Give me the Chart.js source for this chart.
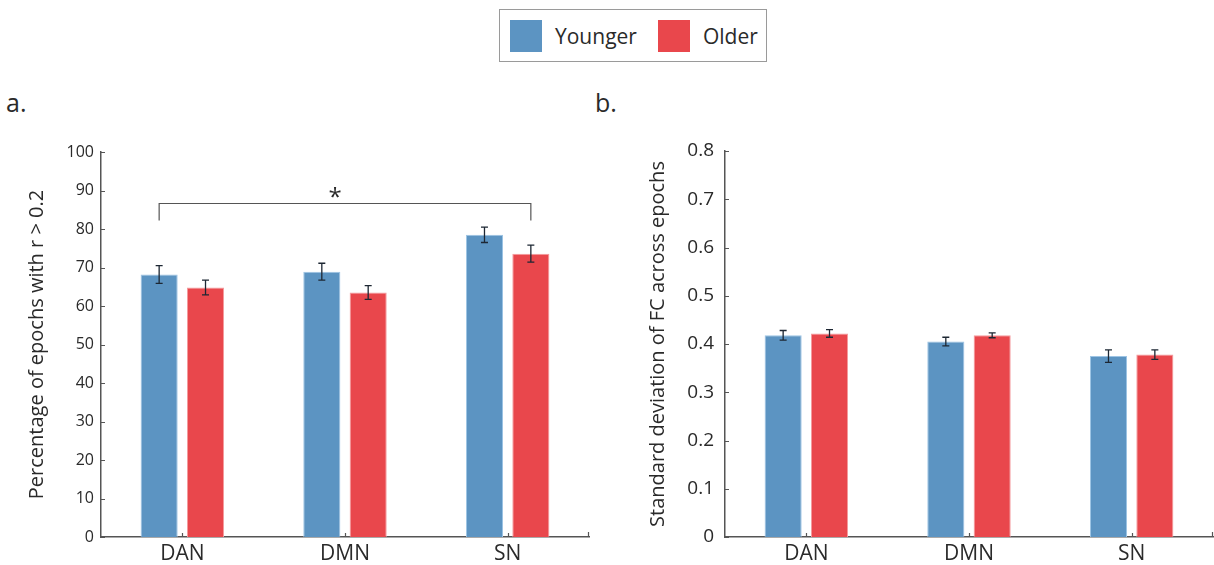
<!DOCTYPE html>
<html>
<head>
<meta charset="utf-8">
<script src="https://cdn.jsdelivr.net/npm/chart.js@4.4.1/dist/chart.umd.min.js"></script>
<style>
  html, body { margin: 0; padding: 0; background: #fff; }
  body { position: relative; width: 1214px; height: 565px; overflow: hidden; font-family: "Open Sans", sans-serif; color: #2a2a2a; }
  .panel { position: absolute; top: 120px; }
  #panelA { left: 0; }
  #panelB { left: 600px; }
  .tag { position: absolute; top: 90px; font-size: 25px; line-height: 1; }
  #legend {
    position: absolute; left: 499px; top: 9px; width: 268px; height: 53px;
    box-sizing: border-box; border: 1px solid #9a9a9a;
    display: flex; align-items: center; padding-left: 10px;
    font-size: 21px;
  }
  #legend .item { display: flex; align-items: center; margin-right: 21px; }
  #legend .swatch { width: 32px; height: 32px; margin-right: 13px; }
</style>
</head>
<body>
<div id="legend"></div>
<div class="tag" style="left:6px">a.</div>
<div class="tag" style="left:595px">b.</div>
<canvas id="panelA" class="panel" width="600" height="445"></canvas>
<canvas id="panelB" class="panel" width="614" height="445"></canvas>
<script>
// networks on the x axis, two age groups per network
const categories = ['DAN', 'DMN', 'SN'];
const groups = ['Younger', 'Older'];
const groupColors = ['#5c94c2', '#e9474c'];
const groupEdges = ['#9dc4e4', '#f49a9d'];

// a. percentage of epochs with r > 0.2 (mean and s.e.)
const pctYounger = [68.2, 68.9, 78.5];
const pctOlder = [64.8, 63.5, 73.6];
const pctYoungerErr = [2.3, 2.2, 2.0];
const pctOlderErr = [1.9, 1.8, 2.2];
const pctTicks = [0, 10, 20, 30, 40, 50, 60, 70, 80, 90, 100];

// b. standard deviation of FC across epochs
const sdYounger = [0.418, 0.405, 0.375];
const sdOlder = [0.422, 0.418, 0.378];
const sdYoungerErr = [0.010, 0.009, 0.013];
const sdOlderErr = [0.008, 0.005, 0.010];
const sdTicks = [0, 0.1, 0.2, 0.3, 0.4, 0.5, 0.6, 0.7, 0.8];

// significance bracket: DAN younger vs SN older
const sigBracket = { from: [0, 0], to: [1, 2], level: 86.7, foot: 82.2, mark: '*' };

const axisColor = '#555';
const errColor = '#1d2733';
const textColor = '#2a2a2a';

Chart.defaults.font.family = '"Open Sans", sans-serif';
Chart.defaults.color = textColor;

// legend
const legend = document.getElementById('legend');
groups.forEach((name, i) => {
    const item = document.createElement('div');
    item.className = 'item';
    const sw = document.createElement('span');
    sw.className = 'swatch';
    sw.style.background = groupColors[i];
    item.appendChild(sw);
    item.appendChild(document.createTextNode(name));
    legend.appendChild(item);
});

const errorBars = {
    id: 'errorBars',
    afterDatasetsDraw(chart) {
        const { ctx, scales: { y } } = chart;
        ctx.save();
        ctx.strokeStyle = errColor;
        ctx.lineWidth = 1.3;
        chart.data.datasets.forEach((ds, i) => {
            chart.getDatasetMeta(i).data.forEach((bar, j) => {
                const hi = y.getPixelForValue(ds.data[j] + ds.errors[j]);
                const lo = y.getPixelForValue(ds.data[j] - ds.errors[j]);
                ctx.beginPath();
                ctx.moveTo(bar.x, hi); ctx.lineTo(bar.x, lo);
                ctx.moveTo(bar.x - 3.5, hi); ctx.lineTo(bar.x + 3.5, hi);
                ctx.moveTo(bar.x - 3.5, lo); ctx.lineTo(bar.x + 3.5, lo);
                ctx.stroke();
            });
        });
        ctx.restore();
    }
};

// short tick marks pointing into the plot
const innerTicks = {
    id: 'innerTicks',
    afterDraw(chart) {
        const { ctx, chartArea: area, scales: { x, y } } = chart;
        ctx.save();
        ctx.strokeStyle = axisColor;
        ctx.lineWidth = 1.2;
        ctx.beginPath();
        y.ticks.forEach((t, i) => {
            const py = Math.round(y.getPixelForTick(i)) + 0.5;
            ctx.moveTo(area.left, py); ctx.lineTo(area.left + 4, py);
        });
        x.ticks.forEach((t, i) => {
            const px = Math.round(x.getPixelForTick(i)) + 0.5;
            ctx.moveTo(px, area.bottom); ctx.lineTo(px, area.bottom - 4);
        });
        ctx.moveTo(area.right - 0.5, area.bottom); ctx.lineTo(area.right - 0.5, area.bottom - 5);
        ctx.stroke();
        ctx.restore();
    }
};

const bracket = {
    id: 'bracket',
    afterDatasetsDraw(chart, args, opts) {
        if (!opts || !opts.mark) return;
        const { ctx, scales: { y } } = chart;
        const x1 = chart.getDatasetMeta(opts.from[0]).data[opts.from[1]].x;
        const x2 = chart.getDatasetMeta(opts.to[0]).data[opts.to[1]].x;
        const yTop = Math.round(y.getPixelForValue(opts.level)) + 0.5;
        const yFoot = y.getPixelForValue(opts.foot);
        ctx.save();
        ctx.strokeStyle = axisColor;
        ctx.lineWidth = 1.2;
        ctx.beginPath();
        ctx.moveTo(x1, yFoot); ctx.lineTo(x1, yTop);
        ctx.lineTo(x2, yTop); ctx.lineTo(x2, yFoot);
        ctx.stroke();
        ctx.fillStyle = textColor;
        ctx.font = '24px "Open Sans", sans-serif';
        ctx.textAlign = 'center';
        ctx.textBaseline = 'alphabetic';
        // asterisk sits a little left of the bracket's middle
        ctx.fillText(opts.mark, (x1 + x2) / 2 - 10, yTop + 1);
        ctx.restore();
    }
};

function makeDatasets(values, errors) {
    return groups.map((name, i) => ({
        label: name,
        data: values[i],
        errors: errors[i],
        backgroundColor: groupColors[i],
        borderColor: groupEdges[i],
        borderWidth: 1,
        categoryPercentage: 0.57,
        barPercentage: 0.8
    }));
}

function barChart(id, opts) {
    const ctx = document.getElementById(id).getContext('2d');
    return new Chart(ctx, {
        type: 'bar',
        data: {
            labels: categories,
            datasets: makeDatasets(opts.values, opts.errors)
        },
        options: {
            responsive: false,
            devicePixelRatio: 1,
            animation: false,
            layout: { padding: opts.padding },
            plugins: {
                legend: { display: false },
                tooltip: { enabled: false },
                bracket: opts.bracket || {}
            },
            scales: {
                x: {
                    grid: { display: false, drawTicks: false },
                    border: { display: true, color: axisColor, width: 1.5 },
                    ticks: { padding: 4, font: { size: 21 }, color: textColor },
                    afterFit(scale) { scale.height = 28; }
                },
                y: {
                    min: opts.ticks[0],
                    max: opts.ticks[opts.ticks.length - 1],
                    afterBuildTicks(scale) { scale.ticks = opts.ticks.map(v => ({ value: v })); },
                    grid: { display: false, drawTicks: false },
                    border: { display: true, color: axisColor, width: 1.5 },
                    ticks: { padding: opts.tickPad, font: { size: opts.tickSize }, color: textColor },
                    title: {
                        display: true,
                        text: opts.title,
                        font: { size: 20 },
                        color: textColor,
                        padding: { top: opts.titlePad, bottom: 0 }
                    },
                    afterFit(scale) { scale.width = opts.axisWidth; }
                }
            }
        },
        plugins: [errorBars, innerTicks, bracket]
    });
}

barChart('panelA', {
    values: [pctYounger, pctOlder],
    errors: [pctYoungerErr, pctOlderErr],
    ticks: pctTicks,
    title: 'Percentage of epochs with r > 0.2',
    padding: { top: 32, right: 11, left: 0, bottom: 0 },
    axisWidth: 101,
    tickPad: 7,
    tickSize: 16,
    titlePad: 25,
    bracket: sigBracket
});

barChart('panelB', {
    values: [sdYounger, sdOlder],
    errors: [sdYoungerErr, sdOlderErr],
    ticks: sdTicks,
    title: 'Standard deviation of FC across epochs',
    padding: { top: 31, right: 1, left: 0, bottom: 0 },
    axisWidth: 125,
    tickPad: 11,
    tickSize: 19,
    titlePad: 46
});
</script>
</body>
</html>
